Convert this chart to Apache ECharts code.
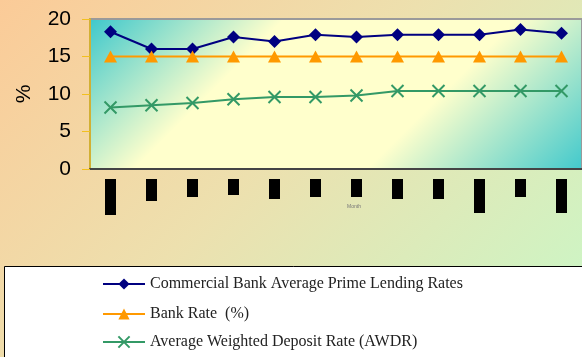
<!DOCTYPE html>
<html>
<head>
<meta charset="utf-8">
<script src="https://cdn.jsdelivr.net/npm/echarts@6/dist/echarts.min.js"></script>
<style>
  html, body { margin: 0; padding: 0; }
  #chart { width: 582px; height: 357px; }
</style>
</head>
<body>
<div id="chart"></div>
<script>
// Monthly interest rates (%)
const months = ['Jan', 'Feb', 'Mar', 'Apr', 'May', 'Jun', 'Jul', 'Aug', 'Sep', 'Oct', 'Nov', 'Dec'];
const primeLending = [18.3, 16.0, 16.0, 17.6, 17.0, 17.9, 17.6, 17.9, 17.9, 17.9, 18.6, 18.1];
const bankRate = [15, 15, 15, 15, 15, 15, 15, 15, 15, 15, 15, 15];
const awdr = [8.2, 8.5, 8.8, 9.3, 9.6, 9.6, 9.8, 10.4, 10.4, 10.4, 10.4, 10.4];
const yTicks = [0, 5, 10, 15, 20];

const seriesNames = [
  'Commercial Bank Average Prime Lending Rates',
  'Bank Rate  (%)',
  'Average Weighted Deposit Rate (AWDR)'
];

// Length of the dark block behind each rotated month label
const labelBlockLen = [36, 22, 18, 16, 20, 18, 18, 20, 20, 34, 18, 34];

const rich = {};
labelBlockLen.forEach((len, i) => {
  rich['m' + i] = {
    width: len, height: 11, lineHeight: 11, fontSize: 7,
    color: '#000', backgroundColor: '#000', align: 'center'
  };
});

const chart = echarts.init(document.getElementById('chart'), null, { renderer: 'canvas' });

const crossSymbol = 'path://M0,0L10,10M10,0L0,10';

// One legend row per series, stacked inside the white key box
const legendRowTops = [276, 306, 334];
const legends = seriesNames.map((name, i) => ({
  left: 102, top: legendRowTops[i], padding: 0,
  itemWidth: 42, itemHeight: 14, itemGap: 4,
  textStyle: { fontFamily: 'Liberation Serif', fontSize: 16, lineHeight: 16, color: '#222' },
  data: [name]
}));

chart.setOption({
  animation: false,
  backgroundColor: {
    type: 'linear', global: true,
    x: 0, y: 0, x2: 470, y2: 470,
    colorStops: [
      { offset: 0, color: '#fbcb98' },
      { offset: 0.45, color: '#ede0ae' },
      { offset: 1, color: '#c8f8c8' }
    ]
  },
  graphic: [
    {
      type: 'rect', z: 0,
      shape: { x: 4.5, y: 266.5, width: 620, height: 120 },
      style: { fill: '#ffffff', stroke: '#000', lineWidth: 1 }
    },
    {
      type: 'text', z: 5,
      x: 354, y: 207,
      style: { text: 'Month', fontSize: 5, fill: '#777', align: 'center', verticalAlign: 'middle' }
    }
  ],
  grid: {
    left: 90, top: 19, width: 497, height: 150,
    show: true,
    borderColor: '#9a9a9a', borderWidth: 2,
    backgroundColor: {
      type: 'linear', global: true,
      x: 90, y: 19, x2: 413.5, y2: 342.5,
      colorStops: [
        { offset: 0, color: '#3ec8cc' },
        { offset: 0.3, color: '#ffffcc' },
        { offset: 0.66, color: '#ffffcc' },
        { offset: 1, color: '#3ec8cc' }
      ]
    }
  },
  legend: legends,
  xAxis: {
    type: 'category',
    data: months,
    boundaryGap: true,
    axisLine: { lineStyle: { color: '#444', width: 2 } },
    axisTick: { length: 5, lineStyle: { color: '#444', width: 1 } },
    axisLabel: {
      interval: 0, rotate: 90, margin: 10,
      formatter: (value, idx) => '{m' + idx + '|' + value + '}',
      rich: rich
    }
  },
  yAxis: {
    type: 'value',
    min: yTicks[0], max: yTicks[yTicks.length - 1], interval: 5,
    name: '%', nameLocation: 'middle', nameGap: 55, nameRotate: 90,
    nameTextStyle: { fontFamily: 'Liberation Sans', fontSize: 21, color: '#000' },
    axisLine: { show: true, lineStyle: { color: '#d2b034', width: 2 } },
    axisTick: { show: true, length: 8, lineStyle: { color: '#f2c020', width: 1 } },
    axisLabel: { fontFamily: 'Liberation Sans', fontSize: 21, color: '#000', margin: 19 },
    splitLine: { show: false }
  },
  series: [
    {
      name: seriesNames[0], type: 'line', data: primeLending,
      symbol: 'diamond', symbolSize: 13,
      lineStyle: { color: '#000080', width: 2 },
      itemStyle: { color: '#000080' }
    },
    {
      name: seriesNames[1], type: 'line', data: bankRate,
      symbol: 'triangle', symbolSize: [13, 12],
      lineStyle: { color: '#ff9900', width: 2 },
      itemStyle: { color: '#ff9900' }
    },
    {
      name: seriesNames[2], type: 'line', data: awdr,
      symbol: crossSymbol, symbolSize: 12,
      lineStyle: { color: '#339966', width: 2 },
      itemStyle: { color: '#339966', borderColor: '#339966', borderWidth: 2 }
    }
  ]
});
</script>
</body>
</html>
